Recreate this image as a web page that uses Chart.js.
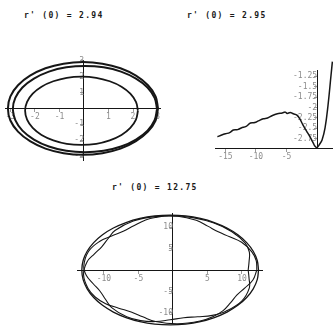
<!DOCTYPE html>
<html>
<head>
<meta charset="utf-8">
<script src="https://cdn.jsdelivr.net/npm/chart.js@4/dist/chart.umd.min.js"></script>
<style>
  body { margin: 0; background: #fff; width: 333px; height: 329px; overflow: hidden; position: relative; }
  .plot { position: absolute; }
  .cap { position: absolute; font: bold 8px 'DejaVu Sans Mono', monospace; letter-spacing: 1.3px; color: #1a1a1a; white-space: pre; }
</style>
</head>
<body>
<div class="cap" style="left:24px;top:11px">r' (0) = 2.94</div>
<div class="cap" style="left:187px;top:11px">r' (0) = 2.95</div>
<div class="cap" style="left:112px;top:183px">r' (0) = 12.75</div>

<canvas class="plot" id="orbitA" width="170" height="112" style="left:0;top:55px"></canvas>
<canvas class="plot" id="energy" width="128" height="104" style="left:205px;top:60px"></canvas>
<canvas class="plot" id="orbitB" width="220" height="129" style="left:60px;top:200px"></canvas>

<script>
// r'(0) = 2.94 : three passes of the orbit
const loopOuter = [
  [3.02, 0], [2.92, 0.76], [2.61, 1.46], [2.12, 2.06], [1.49, 2.53], [0.75, 2.82],
  [-0.04, 2.92], [-0.83, 2.82], [-1.57, 2.53], [-2.20, 2.06], [-2.69, 1.46], [-3.00, 0.76],
  [-3.10, 0], [-3.00, -0.76], [-2.69, -1.46], [-2.20, -2.06], [-1.57, -2.53], [-0.83, -2.82],
  [-0.04, -2.92], [0.75, -2.82], [1.49, -2.53], [2.12, -2.06], [2.61, -1.46], [2.92, -0.76], [3.02, 0]
];
const loopMiddle = [
  [2.98, -0.04], [2.88, 0.66], [2.59, 1.32], [2.12, 1.88], [1.51, 2.32], [0.80, 2.59],
  [0.04, 2.68], [-0.72, 2.59], [-1.43, 2.32], [-2.04, 1.88], [-2.51, 1.32], [-2.80, 0.66],
  [-2.90, -0.04], [-2.80, -0.74], [-2.51, -1.40], [-2.04, -1.96], [-1.43, -2.40], [-0.72, -2.67],
  [0.04, -2.76], [0.80, -2.67], [1.51, -2.40], [2.12, -1.96], [2.59, -1.40], [2.88, -0.74], [2.98, -0.04]
];
const loopInner = [
  [2.20, -0.15], [2.12, 0.41], [1.89, 0.93], [1.53, 1.37], [1.05, 1.71], [0.50, 1.93],
  [-0.10, 2.00], [-0.70, 1.93], [-1.25, 1.71], [-1.73, 1.37], [-2.09, 0.93], [-2.32, 0.41],
  [-2.40, -0.15], [-2.32, -0.71], [-2.09, -1.23], [-1.73, -1.67], [-1.25, -2.01], [-0.70, -2.23],
  [-0.10, -2.30], [0.50, -2.23], [1.05, -2.01], [1.53, -1.67], [1.89, -1.23], [2.12, -0.71], [2.20, -0.15]
];
const orbitAXTicks = [-3, -2, -1, 1, 2, 3];
const orbitAYTicks = [-3, -2, -1, 1, 2, 3];

// r'(0) = 2.95 : energy curve
const energyCurve = [
  [-16.3, -2.70], [-15.6, -2.66], [-15.0, -2.63], [-14.3, -2.60], [-13.7, -2.54], [-13.0, -2.53],
  [-12.4, -2.49], [-11.6, -2.45], [-10.9, -2.37], [-10.2, -2.36], [-9.6, -2.32], [-8.8, -2.27],
  [-8.1, -2.25], [-7.3, -2.19], [-6.5, -2.15], [-5.7, -2.13], [-5.2, -2.11], [-4.9, -2.14],
  [-4.4, -2.12], [-3.9, -2.15], [-3.3, -2.18], [-2.8, -2.28], [-2.3, -2.42], [-1.7, -2.57],
  [-1.14, -2.71], [-0.6, -2.86], [-0.33, -2.93], [0, -2.96], [0.4, -2.88], [0.81, -2.78],
  [1.3, -2.49], [1.79, -1.94], [2.28, -1.22], [2.5, -0.9]
];
const energyXTicks = [-15, -10, -5];
const energyYTicks = [-2.75, -2.5, -2.25, -2, -1.75, -1.5, -1.25];

// r'(0) = 12.75 : bounding circle and two passes of the precessing orbit
const boundCircle = [
  [12.4, 0], [12.21, 2.23], [11.63, 4.38], [10.68, 6.4], [9.40, 8.23], [7.83, 9.80],
  [6.0, 11.08], [3.98, 12.03], [1.83, 12.61], [-0.4, 12.8], [-2.63, 12.61], [-4.78, 12.03],
  [-6.8, 11.08], [-8.63, 9.80], [-10.2, 8.23], [-11.48, 6.4], [-12.43, 4.38], [-13.01, 2.23],
  [-13.2, 0], [-13.01, -2.23], [-12.43, -4.38], [-11.48, -6.4], [-10.2, -8.23], [-8.63, -9.80],
  [-6.8, -11.08], [-4.78, -12.03], [-2.63, -12.61], [-0.4, -12.8], [1.83, -12.61], [3.98, -12.03],
  [6.0, -11.08], [7.83, -9.80], [9.40, -8.23], [10.68, -6.4], [11.63, -4.38], [12.21, -2.23], [12.4, 0]
];
const passOne = [
  [10.9, 0], [11.03, 2.02], [11.07, 4.17], [10.47, 6.28], [8.54, 8.94], [5.93, 10.95],
  [2.88, 12.22], [-0.4, 12.65], [-2.57, 12.26], [-3.96, 11.66], [-5.67, 10.34], [-7.20, 9.03],
  [-8.88, 7.91], [-10.64, 6.65], [-12.24, 4.31], [-12.92, 0.88], [-12.54, -1.28], [-11.55, -3.20],
  [-10.56, -4.95], [-9.78, -6.82], [-8.88, -8.77], [-6.70, -10.91], [-4.69, -11.80], [-2.52, -12.02],
  [-0.4, -11.6], [1.57, -11.13], [3.57, -10.90], [5.70, -10.57], [7.67, -9.61], [9.96, -7.26],
  [11.07, -4.17], [11.03, -2.02], [10.9, 0]
];
const passTwo = [
  [12.15, 0], [12.06, 2.20], [11.40, 4.29], [9.95, 6.47], [8.22, 7.76], [6.56, 8.90],
  [5.04, 10.24], [3.37, 11.60], [0.70, 12.55], [-2.60, 12.46], [-5.74, 11.43], [-8.40, 9.21],
  [-9.41, 7.30], [-10.29, 5.48], [-11.37, 3.78], [-12.45, 1.90], [-12.95, -1.10], [-12.29, -4.33],
  [-11.27, -6.28], [-9.75, -7.84], [-7.86, -8.89], [-6.05, -9.79], [-4.37, -10.90], [-2.52, -12.02],
  [0.70, -12.55], [3.93, -11.89], [5.85, -10.83], [7.27, -9.48], [8.36, -7.61], [9.28, -5.82],
  [10.43, -4.15], [11.58, -2.33], [12.15, 0]
];
const orbitBXTicks = [-10, -5, 5, 10];
const orbitBYTicks = [-10, -5, 5, 10];

const INK = '#161616';
const tickFont = { family: 'DejaVu Sans Mono', size: 8 };

function pts(list) {
  return list.map(p => ({ x: p[0], y: p[1] }));
}

function curve(list, width) {
  return {
    data: pts(list), showLine: true, borderColor: INK, borderWidth: width,
    pointRadius: 0, tension: 0.4, clip: false
  };
}

function axis(min, max, ticks, cross) {
  return {
    type: 'linear', min: min, max: max, position: cross,
    afterBuildTicks: s => { s.ticks = ticks.map(v => ({ value: v })); },
    ticks: { autoSkip: false, font: tickFont, color: '#8c8c8c', padding: 1,
             callback: v => String(v) },
    grid: { drawOnChartArea: false, tickLength: 3, color: '#9a9a9a' },
    border: { color: INK, width: 1 }
  };
}

function plot(id, sets, xs, ys, pad) {
  new Chart(document.getElementById(id), {
    type: 'scatter',
    data: { datasets: sets },
    options: {
      responsive: false, animation: false,
      layout: { padding: pad },
      plugins: { legend: { display: false }, tooltip: { enabled: false } },
      scales: { x: xs, y: ys }
    }
  });
}

plot('orbitA',
  [curve(loopOuter, 2), curve(loopMiddle, 2), curve(loopInner, 1.8)],
  axis(-3.22, 3.1, orbitAXTicks, { y: 0 }),
  axis(-3.25, 3.0, orbitAYTicks, { x: 0 }),
  { left: 5, right: 10, top: 5, bottom: 7 });

plot('energy',
  [curve(energyCurve, 1.5)],
  axis(-16.7, 2.6, energyXTicks, { y: -2.97 }),
  axis(-2.97, -1.1, energyYTicks, { x: 0 }),
  { left: 10, right: 0, top: 10, bottom: 16 });

plot('orbitB',
  [curve(boundCircle, 1.3), curve(passOne, 1.1), curve(passTwo, 1.1)],
  axis(-13.9, 12.9, orbitBXTicks, { y: 0 }),
  axis(-12.4, 13.3, orbitBYTicks, { x: 0 }),
  { left: 17, right: 18, top: 13, bottom: 0 });
</script>
</body>
</html>
